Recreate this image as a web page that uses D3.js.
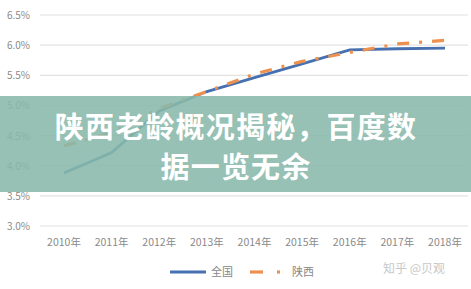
<!DOCTYPE html>
<html>
<head>
<meta charset="utf-8">
<script src="https://cdn.jsdelivr.net/npm/d3@7"></script>
<style>
  body { margin: 0; background: #fff; }
  svg { display: block; font-family: "Noto Sans CJK SC", "Noto Sans", sans-serif; }
</style>
</head>
<body>
<svg id="chart" width="471" height="289"></svg>
<script>
// data
var years = ["2010年","2011年","2012年","2013年","2014年","2015年","2016年","2017年","2018年"];
var national = [3.88, 4.22, 4.91, 5.23, 5.46, 5.69, 5.92, 5.94, 5.95];
var shaanxi = [4.33, 4.55, 4.95, 5.23, 5.52, 5.73, 5.88, 6.02, 6.08];
var yTicks = [3.0, 3.5, 4.0, 4.5, 5.0, 5.5, 6.0, 6.5];
var seriesNames = ["全国", "陕西"];
var titleLines = ["陕西老龄概况揭秘，百度数", "据一览无余"];
var watermark = "知乎 @贝观";

var svg = d3.select("#chart");
var plotLeft = 40, plotRight = 468, plotTop = 15, plotBottom = 226;

var x = d3.scalePoint().domain(years).range([64, 445]);
var y = d3.scaleLinear().domain([3.0, 6.5]).range([plotBottom, plotTop]);

// grid
svg.selectAll(".grid").data(yTicks).enter().append("line")
  .attr("class", "grid")
  .attr("x1", plotLeft).attr("x2", plotRight)
  .attr("y1", function(d){ return y(d); }).attr("y2", function(d){ return y(d); })
  .attr("stroke", "#e2e2e2").attr("stroke-width", 1.2);

svg.selectAll(".ylab").data(yTicks).enter().append("text")
  .attr("class", "ylab")
  .attr("x", 30).attr("y", function(d){ return y(d) + 4; })
  .attr("text-anchor", "end").attr("font-size", 10).attr("fill", "#8a8a8a")
  .text(function(d){ return d.toFixed(1) + "%"; });

svg.selectAll(".xlab").data(years).enter().append("text")
  .attr("class", "xlab")
  .attr("x", function(d){ return x(d); }).attr("y", 246)
  .attr("text-anchor", "middle").attr("font-size", 10.5).attr("fill", "#8a8a8a")
  .text(function(d){ return d; });

var line = d3.line().x(function(d, i){ return x(years[i]); }).y(function(d){ return y(d); });

svg.append("path").datum(national).attr("d", line)
  .attr("fill", "none").attr("stroke", "#4670b0").attr("stroke-width", 2.8);
svg.append("path").datum(shaanxi).attr("d", line)
  .attr("fill", "none").attr("stroke", "#ec9150").attr("stroke-width", 3.2)
  .attr("stroke-dasharray", "12,10,3,10");

// legend
svg.append("line").attr("x1", 170).attr("x2", 206).attr("y1", 272).attr("y2", 272)
  .attr("stroke", "#4670b0").attr("stroke-width", 2.8);
svg.append("text").attr("x", 211).attr("y", 276).attr("font-size", 11).attr("fill", "#888").text(seriesNames[0]);
svg.append("line").attr("x1", 250).attr("x2", 263).attr("y1", 272).attr("y2", 272)
  .attr("stroke", "#ec9150").attr("stroke-width", 3.2);
svg.append("line").attr("x1", 277).attr("x2", 280).attr("y1", 272).attr("y2", 272)
  .attr("stroke", "#ec9150").attr("stroke-width", 3.2);
svg.append("text").attr("x", 292).attr("y", 276).attr("font-size", 11).attr("fill", "#888").text(seriesNames[1]);

svg.append("text").attr("x", 383).attr("y", 273).attr("font-size", 12).attr("fill", "#c8c8c8").text(watermark);

// overlay band with title
svg.append("rect").attr("x", 0).attr("y", 96).attr("width", 471).attr("height", 96)
  .attr("fill", "#88b8aa").attr("opacity", 0.88);
svg.selectAll(".title").data(titleLines).enter().append("text")
  .attr("class", "title")
  .attr("x", 236).attr("y", function(d, i){ return 138 + i * 40; })
  .attr("text-anchor", "middle").attr("font-size", 29).attr("font-weight", "bold")
  .attr("letter-spacing", 1.2).attr("fill", "#fff")
  .text(function(d){ return d; });
</script>
</body>
</html>
